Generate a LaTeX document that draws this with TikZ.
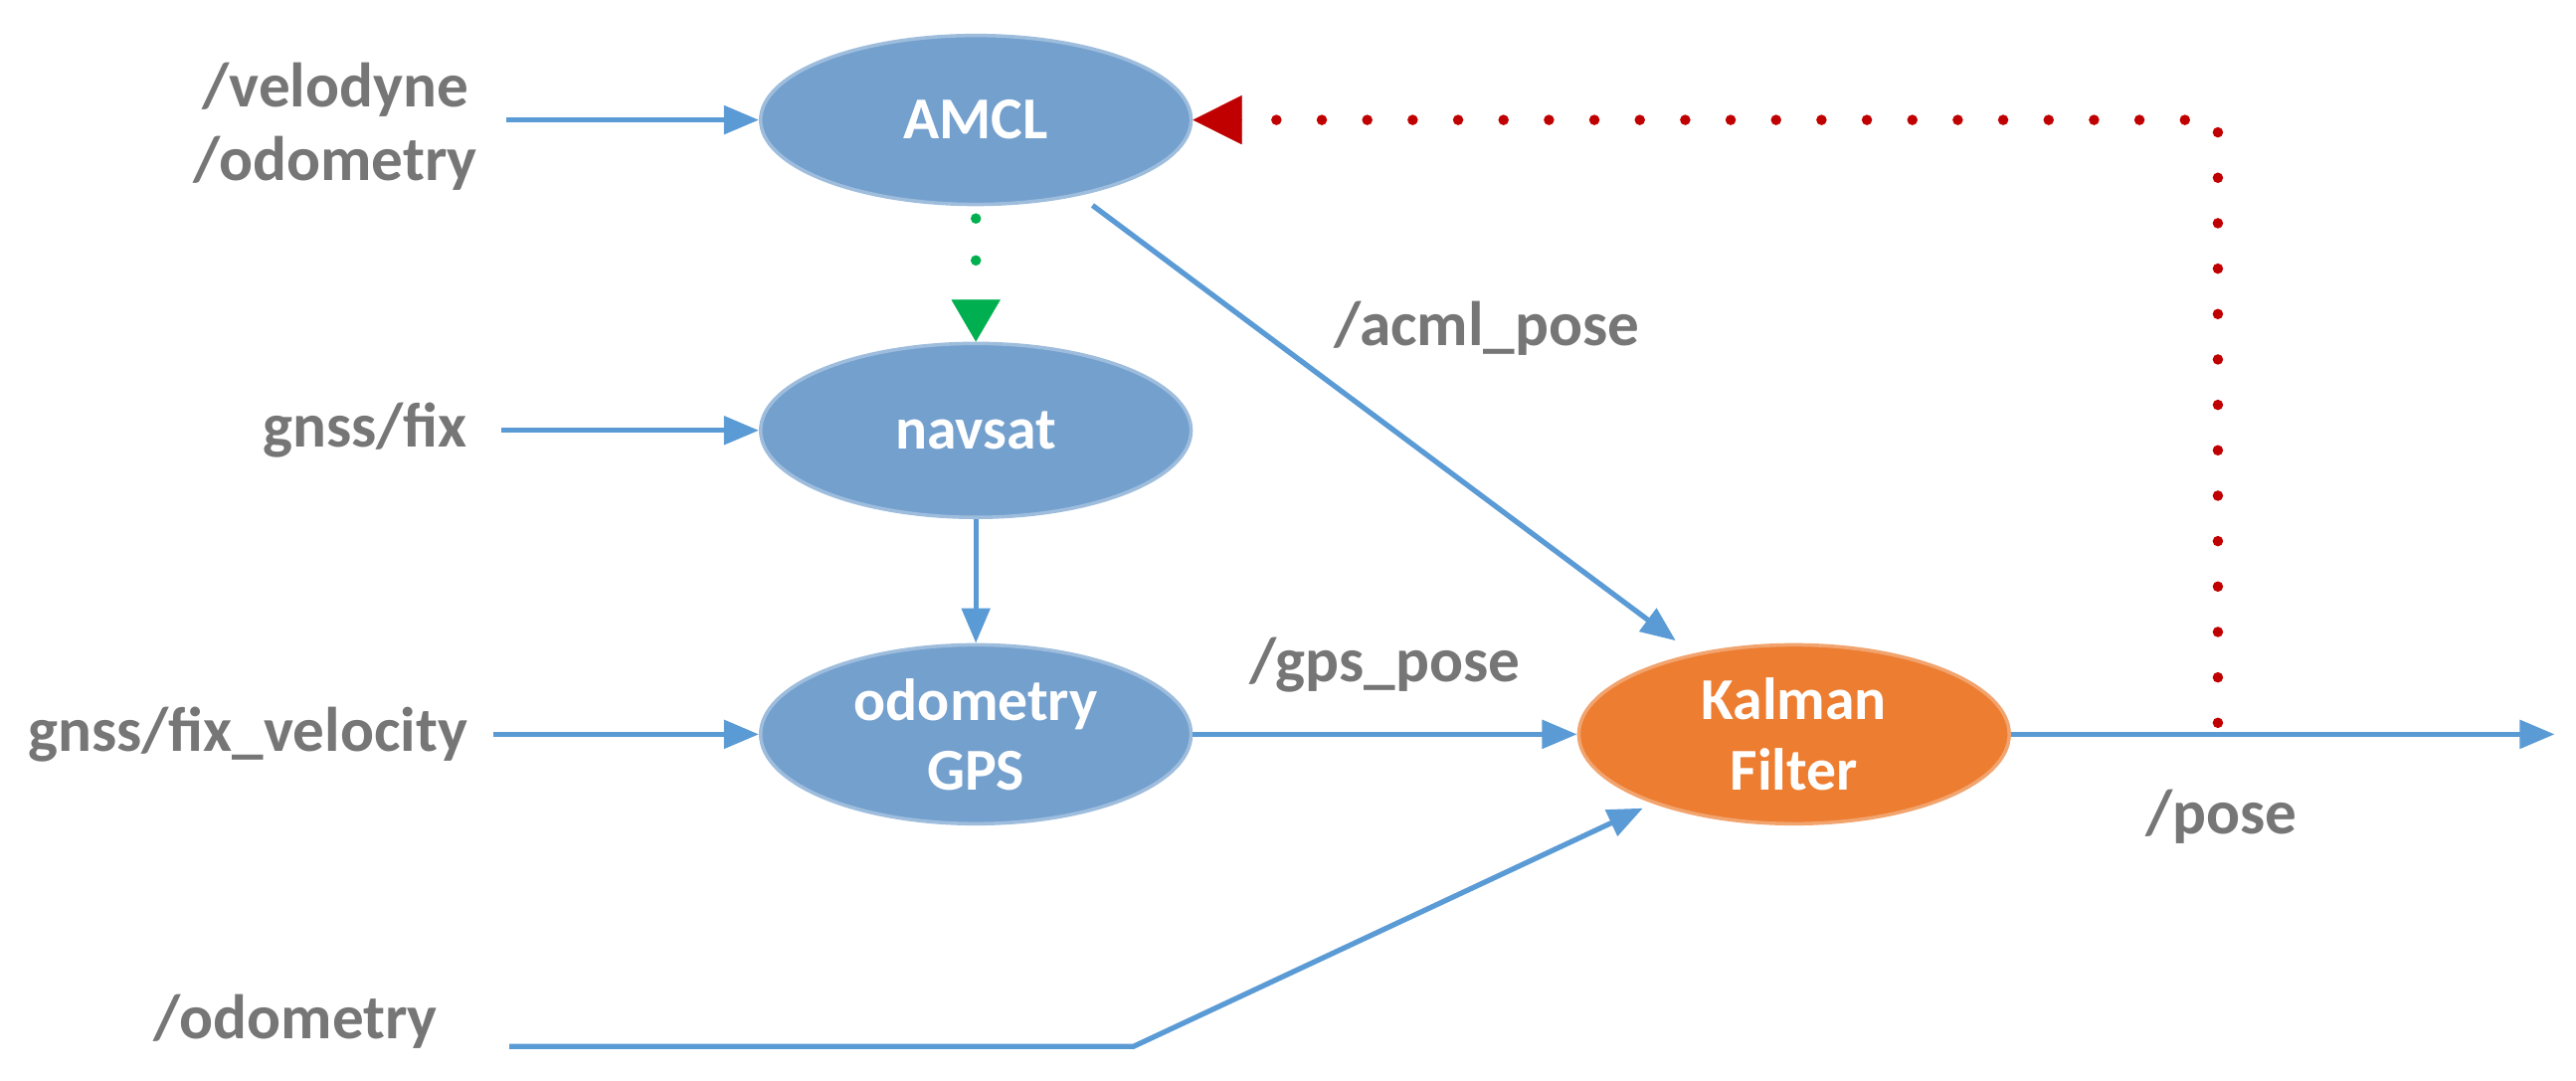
\documentclass[tikz,border=0pt]{standalone}
\usepackage{fontspec}
\setmainfont{Carlito}
\usetikzlibrary{shapes.geometric,arrows.meta}
\definecolor{nb}{RGB}{116,160,206}
\definecolor{ko}{RGB}{237,125,49}
\definecolor{ab}{RGB}{91,155,213}
\definecolor{tg}{RGB}{118,118,118}
\definecolor{rd}{RGB}{192,0,0}
\definecolor{gr}{RGB}{0,176,80}
\begin{document}
\begin{tikzpicture}[x=0.01652cm,y=-0.01652cm,
  nd/.style={ellipse,fill=nb,draw=nb!70!white,line width=1pt,minimum width=4.33cm,minimum height=1.7cm,inner sep=0pt,text=white,font=\fontsize{17}{20}\selectfont\bfseries,align=center},
  lb/.style={text=tg,font=\fontsize{18}{21}\selectfont\bfseries,align=center},
  ar/.style={draw=ab,line width=1.5pt,-{Triangle[length=10pt,width=8pt]}}]
\useasboundingbox (0,0) rectangle (1568,658);
\node[nd] (amcl) at (594,73) {AMCL};
\node[nd,minimum height=1.75cm] (nav) at (594,262) {navsat};
\node[nd,minimum height=1.8cm] (og) at (594,447) {odometry\\GPS};
\node[nd,minimum height=1.8cm,fill=ko,draw=ko!70!white] (kf) at (1092,447) {Kalman\\Filter};
\node[lb,anchor=east] (vel) at (298,77) {/velodyne\\/odometry};
\node[lb,anchor=east] (gf) at (292,262) {gnss/fix};
\node[lb,anchor=east] (gfv) at (292,447) {gnss/fix\_velocity};
\node[lb] (od) at (180,622) {/odometry};
\node[lb] at (905,200) {/acml\_pose};
\node[lb] at (843,405) {/gps\_pose};
\node[lb] at (1352,497) {/pose};
\coordinate (a1) at (308,73);
\coordinate (a2) at (305,262);
\coordinate (a3) at (300,447);
\coordinate (o1) at (310,637);
\coordinate (o2) at (690,637);
\coordinate (pe) at (1555,447);
\coordinate (rc) at (1350,440);
\coordinate (rt) at (1350,73);
\draw[ar] (a1) -- (amcl);
\draw[ar] (a2) -- (nav);
\draw[ar] (a3) -- (og);
\draw[ar] (nav) -- (og);
\draw[ar] (665,125) -- (1020,390);
\draw[ar] (og) -- (kf);
\draw[ar] (o1) -- (o2) -- (1000,492);
\draw[ar] (kf) -- (pe);
\draw[rd,line width=3pt,line cap=round,dash pattern=on 0pt off 13pt] (rc) -- (rt) -- ([xshift=20]amcl.east);
\draw[draw=rd,line width=0.1pt,-{Triangle[length=14pt,width=14pt,fill=rd]}] ([xshift=14]amcl.east) -- (amcl.east);
\draw[gr,line width=3pt,line cap=round,dash pattern=on 0pt off 12pt] (594,133) -- (594,178);
\draw[draw=gr,line width=0.1pt,-{Triangle[length=12pt,width=14pt,fill=gr]}] (594,185) -- (nav.north);
\end{tikzpicture}
\end{document}
